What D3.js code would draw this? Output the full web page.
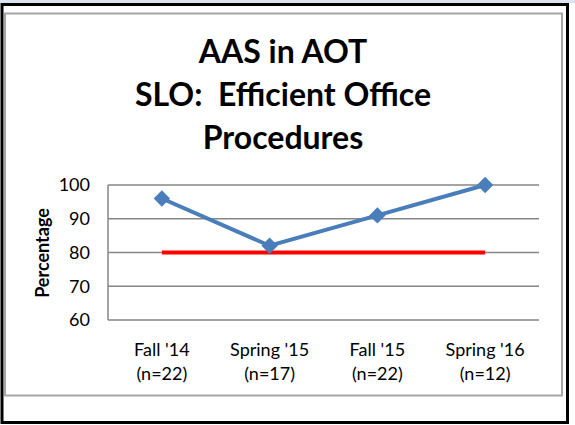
<!DOCTYPE html>
<html>
<head>
<meta charset="utf-8">
<script src="https://cdn.jsdelivr.net/npm/d3@7"></script>
<style>
  body { margin: 0; background: #fff; }
  text { font-family: Lato, "Open Sans", sans-serif; fill: #000; white-space: pre; }
</style>
</head>
<body>
<div id="chart"></div>
<script>
const width = 575;
const height = 425;

// data
const terms = ["Fall '14", "Spring '15", "Fall '15", "Spring '16"];
const counts = ["(n=22)", "(n=17)", "(n=22)", "(n=12)"];
const percents = [96, 82, 91, 100];
const target = [80, 80, 80, 80];
const yTicks = [60, 70, 80, 90, 100];
const titleLines = ["AAS in AOT", "SLO:  Efficient Office", "Procedures"];

const svg = d3.select("#chart")
	.append("svg")
	.attr("width", width)
	.attr("height", height);

// page strip + outer frame
svg.append("rect").attr("x", 0).attr("y", 0).attr("width", width).attr("height", 3).attr("fill", "#dde4ee");
svg.append("rect")
	.attr("x", 2).attr("y", 4.5)
	.attr("width", 565.5).attr("height", 418)
	.attr("fill", "none").attr("stroke", "#000").attr("stroke-width", 3);

// chart area border
svg.append("rect")
	.attr("x", 5).attr("y", 13.5)
	.attr("width", 557).attr("height", 382)
	.attr("fill", "#fff").attr("stroke", "#a6a6a6").attr("stroke-width", 2);

const margin = {left: 108, right: 539, top: 185, bottom: 320};

const x = d3.scaleBand().domain(terms).range([margin.left, margin.right]);
const y = d3.scaleLinear().domain([60, 100]).range([margin.bottom, margin.top]);

// gridlines
svg.append("g")
	.selectAll("line")
	.data(yTicks)
	.enter()
	.append("line")
	.attr("x1", margin.left).attr("x2", margin.right)
	.attr("y1", (d) => y(d)).attr("y2", (d) => y(d))
	.attr("stroke", "#868686").attr("stroke-width", 1.5);

// left axis line
svg.append("line")
	.attr("x1", margin.left).attr("x2", margin.left)
	.attr("y1", margin.top).attr("y2", margin.bottom)
	.attr("stroke", "#868686").attr("stroke-width", 1.5);

const yAxis = d3.axisLeft(y).tickValues(yTicks).tickSize(0).tickPadding(18);
const yg = svg.append("g").attr("transform", `translate(${margin.left},0)`).call(yAxis);
yg.select(".domain").remove();
yg.selectAll("text").style("font-size", "18px").style("font-family", "Lato, 'Open Sans', sans-serif");

// x labels (two lines)
const xl = svg.append("g")
	.selectAll("text")
	.data(terms)
	.enter()
	.append("text")
	.attr("text-anchor", "middle")
	.attr("font-size", "18px")
	.attr("x", (d) => x(d) + x.bandwidth() / 2);
xl.append("tspan").attr("y", 356).text((d) => d);
xl.append("tspan")
	.attr("x", (d) => x(d) + x.bandwidth() / 2)
	.attr("y", 380)
	.text((d, i) => counts[i]);

// y label
svg.append("text")
	.attr("transform", "translate(49,253) rotate(-90)")
	.attr("text-anchor", "middle")
	.attr("font-size", "18px")
	.attr("font-weight", "bold")
	.text("Percentage");

// title
svg.append("g")
	.selectAll("text")
	.data(titleLines)
	.enter()
	.append("text")
	.attr("x", 283)
	.attr("y", (d, i) => 63 + i * 43)
	.attr("text-anchor", "middle")
	.attr("font-size", "32px")
	.attr("font-weight", "bold")
	.text((d) => d);

const cx = (d, i) => x(terms[i]) + x.bandwidth() / 2;

// target line
svg.append("path")
	.datum(target)
	.attr("d", d3.line().x(cx).y((d) => y(d)))
	.attr("fill", "none")
	.attr("stroke", "#ff0000")
	.attr("stroke-width", 4);

// percentage series
svg.append("path")
	.datum(percents)
	.attr("d", d3.line().x(cx).y((d) => y(d)))
	.attr("fill", "none")
	.attr("stroke", "#4a7ebb")
	.attr("stroke-width", 4);

svg.append("g")
	.selectAll("path")
	.data(percents)
	.enter()
	.append("path")
	.attr("d", d3.symbol().type(d3.symbolDiamond2).size(170))
	.attr("transform", (d, i) => `translate(${cx(d, i)},${y(d)})`)
	.attr("fill", "#4a7ebb");
</script>
</body>
</html>
